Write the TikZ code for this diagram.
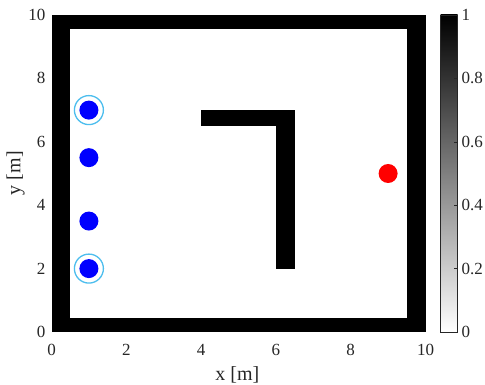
\documentclass[tikz,border=0pt]{standalone}
\usepackage{fontspec}
\setmainfont{Liberation Serif}
\definecolor{Axis}{HTML}{262626}
\definecolor{Ring}{HTML}{4DBEEE}
\definecolor{Robot}{HTML}{0000FF}
\definecolor{Goal}{HTML}{FF0000}
\tikzset{
  ticklabel/.style={inner sep=0pt,text=Axis,font=\fontsize{17}{20}\selectfont},
  axislabel/.style={inner sep=0pt,text=Axis,font=\fontsize{20}{24}\selectfont},
  wall/.style={fill=black},
  agent/.style={fill=Robot},
}

\begin{document}
\begin{tikzpicture}[x=37.4pt,y=31.7pt]
  \useasboundingbox (-51.5pt,-53pt) rectangle (433.5pt,332pt);

  % map
  \fill[wall] (0,0) rectangle (10,10);
  \fill[white] (0.5,0.45) rectangle (9.5,9.55);
  \fill[wall] (4,6.5) rectangle (6.5,7);
  \fill[wall] (6,2) rectangle (6.5,7);

  \foreach \y in {7,5.5,3.5,2}
    \fill[agent] (1,\y) circle (9.5pt);
  \foreach \y in {7,2}
    \draw[Ring,line width=1.3pt] (1,\y) circle (14.5pt);
  \fill[Goal] (9,5) circle (9.5pt);

  \foreach \v in {0,2,...,10} {
    \node[ticklabel] (xt\v) at (\v,-18pt) {\v};
    \node[ticklabel,anchor=east] (yt\v) at (-6pt,\v) {\v};
  }
  \node[axislabel] (xlab) at (4.97,-43pt) {x [m]};
  \node[axislabel,rotate=90] (ylab) at (-36pt,5.01) {y [m]};

  % colorbar
  \shade[bottom color=white,top color=black] (389pt,0) rectangle (406pt,10);
  \draw[Axis,line width=0.5pt] (389pt,0) rectangle (406pt,10);
  \foreach \t/\lab in {0/0,0.2/0.2,0.4/0.4,0.6/0.6,0.8/0.8,1/1} {
    \draw[Axis,line width=0.5pt] (406pt,{10*\t}) -- ++(-3.5pt,0);
    \node[ticklabel,anchor=west] (ct\lab) at (410pt,{10*\t}) {\lab};
  }
\end{tikzpicture}
\end{document}
